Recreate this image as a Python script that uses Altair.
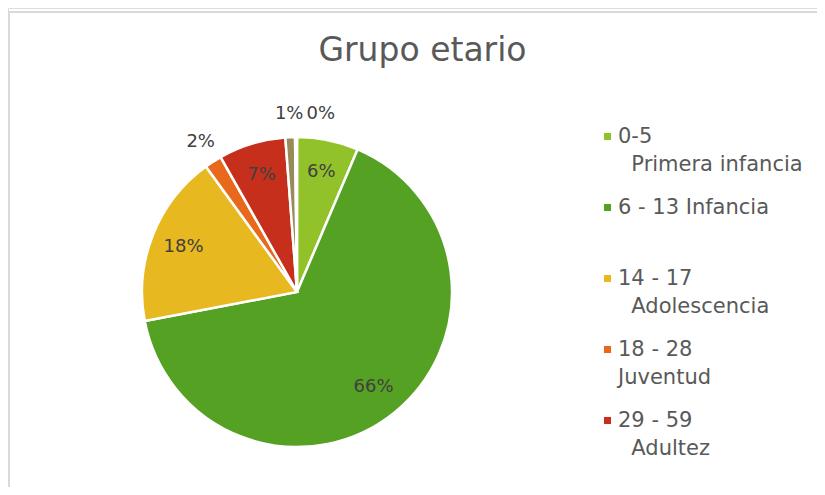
import altair as alt
import pandas as pd

IND = "\u200b\u00a0\u00a0"
categories = [
    "0-5\n" + IND + "Primera infancia",
    "6 - 13 Infancia",
    "14 - 17\n" + IND + "Adolescencia",
    "18 - 28\nJuventud",
    "29 - 59\n" + IND + "Adultez",
    "60 y más\n" + IND + "Persona mayor",
    "Sin dato",
]
values = [6.4, 65.6, 18.0, 1.8, 7.0, 1.0, 0.2]
colors = ["#92c22a", "#55a124", "#e7b81f", "#e8691b", "#c52f1c", "#978b5b", "#5b6f8a"]
legend_shown = categories[:5]

df = pd.DataFrame({"cat": categories, "value": values, "idx": list(range(len(categories)))})

FONT = "DejaVu Sans"
theta_scale = alt.Scale(domain=[0, 1])

base = (
    alt.Chart(df)
    .transform_joinaggregate(total="sum(value)")
    .transform_window(cum="sum(value)", sort=[alt.SortField("idx", order="ascending")])
    .transform_calculate(
        start="(datum.cum - datum.value) / datum.total",
        end="datum.cum / datum.total",
        mid="(datum.cum - datum.value / 2) / datum.total",
        lbl="format(datum.value / 100, '.0%')",
    )
)

center_x = alt.value(289)
center_y = alt.value(284)

arcs = base.mark_arc(outerRadius=155, stroke="white", strokeWidth=2.5).encode(
    theta=alt.Theta("start:Q", scale=theta_scale),
    theta2="end:Q",
    color=alt.Color(
        "cat:N",
        scale=alt.Scale(domain=categories, range=colors),
        legend=alt.Legend(
            values=legend_shown,
            orient="none",
            legendX=589,
            legendY=118,
            title=None,
            symbolType="square",
            symbolSize=50,
            symbolStrokeWidth=0,
            labelFont=FONT,
            labelFontSize=21,
            labelColor="#595959",
            labelOffset=0,
            labelLimit=400,
            labelExpr="split(datum.label, '\\n')",
            rowPadding=21,
            padding=0,
            gridAlign="all",
        ),
    ),
    x=center_x,
    y=center_y,
)

text_style = dict(font=FONT, fontSize=18, color="#404040")

inside = base.transform_filter("datum.value >= 5").mark_text(radius=122, **text_style).encode(
    theta=alt.Theta("mid:Q", scale=theta_scale), text="lbl:N", x=center_x, y=center_y
)
outside = base.transform_filter("datum.value < 5 && datum.value >= 0.5").mark_text(
    radius=178, **text_style
).encode(theta=alt.Theta("mid:Q", scale=theta_scale), text="lbl:N", x=center_x, y=center_y)
tiny = base.transform_filter("datum.value < 0.5").mark_text(radius=178, dx=25, **text_style).encode(
    theta=alt.Theta("mid:Q", scale=theta_scale), text="lbl:N", x=center_x, y=center_y
)

frame = alt.Data(values=[{}])
top_line = alt.Chart(frame).mark_rule(color="#d9d9d9", strokeWidth=2).encode(
    x=alt.value(0), x2=alt.value(809), y=alt.value(4)
)
left_line = alt.Chart(frame).mark_rule(color="#d9d9d9", strokeWidth=2).encode(
    x=alt.value(1), y=alt.value(4), y2=alt.value(479)
)

chart = (
    alt.layer(top_line, left_line, arcs, inside, outside, tiny)
    .properties(
        width=809,
        height=479,
        padding=0,
        autosize=alt.AutoSizeParams(type="none"),
        title=alt.TitleParams(
            "Grupo etario",
            font=FONT,
            fontSize=33,
            fontWeight="normal",
            color="#595959",
            anchor="middle",
            baseline="alphabetic",
            offset=0,
            dx=10,
            dy=86,
        ),
    )
    .configure_view(stroke=None)
    .configure(style={"guide-label": {"lineHeight": 28}})
)

chart.save("out.html", embed_options={"renderer": "svg", "actions": False})
